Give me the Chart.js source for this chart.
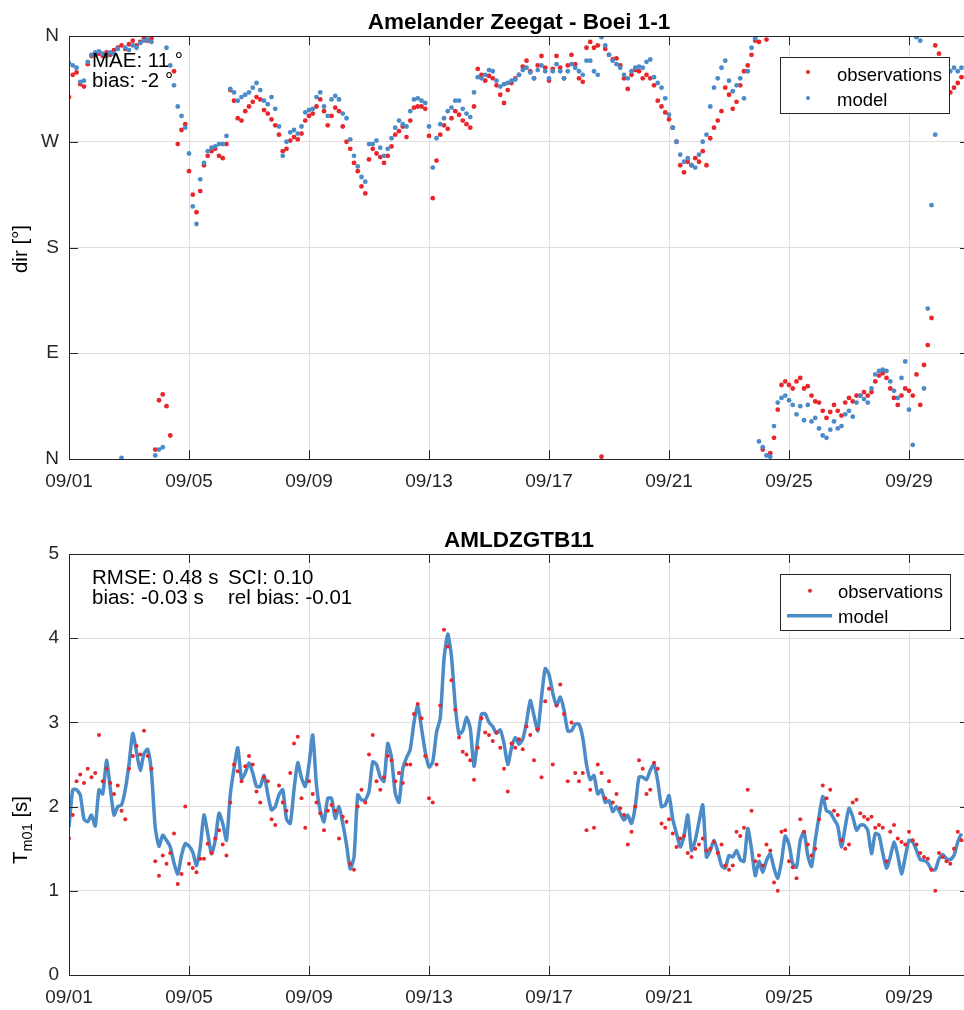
<!DOCTYPE html>
<html>
<head>
<meta charset="utf-8">
<script src="https://cdn.jsdelivr.net/npm/chart.js@4.4.0/dist/chart.umd.min.js"></script>
<style>
    html, body { margin: 0; padding: 0; background: #fff; overflow: hidden; }
    #wrap { position: relative; width: 964px; height: 1010px; overflow: hidden; }
    canvas { position: absolute; left: 0; }
    #dirChart { top: 0; }
    #tmChart { top: 505px; }
</style>
</head>
<body>
<div id="wrap">
    <canvas id="dirChart" width="980" height="505"></canvas>
    <canvas id="tmChart" width="980" height="505"></canvas>
</div>
<script>
// Series are sampled every 3 hours starting 09/01 00:00
const stepHours = 3;

// Wave direction (deg, nautical) at Amelander Zeegat - Boei 1-1
const dirObs = [
    308, 327, 329, 319, 317, 336, 343, 344,   // 09/01
    345, 343, 346, 344, 348, 350, 352, 349,
    353, 356, 352, 355, 358, 356, 358, 8,
    50, 55, 45, 20, 330, 268, 280, 285,
    245, 225, 210, 228, 250, 258, 262, 264,   // 09/05
    258, 256, 268, 314, 305, 290, 288, 296,
    300, 304, 308, 306, 297, 294, 289, 284,
    276, 262, 264, 271, 274, 272, 277, 288,
    292, 294, 300, 306, 296, 284, 292, 299,   // 09/09
    296, 283, 270, 264, 252, 245, 232, 226,
    255, 264, 260, 257, 252, 258, 266, 276,
    279, 283, 274, 288, 299, 300, 300, 298,
    275, 222, 254, 276, 284, 281, 290, 296,   // 09/13
    293, 288, 285, 282, 300, 332, 327, 322,
    326, 324, 318, 310, 303, 314, 320, 324,
    327, 334, 339, 330, 324, 335, 343, 333,
    322, 332, 343, 333, 324, 335, 344, 336,   // 09/17
    324, 321, 350, 355, 350, 352, 2, 349,
    344, 340, 341, 335, 324, 315, 327, 331,
    330, 324, 327, 324, 318, 305, 300, 295,
    289, 282, 270, 250, 244, 253, 250, 256,   // 09/21
    253, 262, 250, 273, 282, 288, 296, 316,
    310, 298, 304, 318, 330, 335, 344, 356,
    355, 8, 357, 5, 18, 42, 63, 66,
    63, 60, 66, 69, 60, 62, 54, 49,           // 09/25
    48, 41, 35, 40, 46, 41, 37, 48,
    52, 49, 54, 54, 57, 54, 57, 66,
    71, 73, 69, 60, 52, 46, 54, 60,
    58, 54, 72, 46, 80, 97, 120, 352,         // 09/29
    345, 300, 305, 312, 316, 320, 325
];
const dirModel = [
    337, 335, 333, 321, 322, 338, 344, 346,
    347, 345, 343, 346, 345, 349, 1, 350,
    348, 352, 350, 354, 356, 357, 355, 3,
    8, 10, 350, 335, 318, 300, 292, 282,
    260, 215, 200, 238, 252, 262, 265, 266,
    268, 268, 275, 315, 312, 305, 308, 310,
    312, 316, 320, 314, 305, 302, 308, 298,
    283, 258, 270, 278, 280, 277, 283, 295,
    297, 298, 308, 312, 300, 292, 306, 309,
    306, 294, 290, 272, 258, 249, 240, 236,
    268, 268, 271, 265, 258, 264, 273, 282,
    288, 285, 283, 296, 306, 307, 305, 303,
    283, 248, 273, 285, 290, 296, 299, 305,
    305, 298, 294, 291, 312, 325, 324, 327,
    331, 330, 322, 317, 319, 320, 322, 323,
    327, 331, 333, 329, 324, 331, 335, 330,
    324, 330, 336, 330, 324, 330, 336, 333,
    330, 327, 339, 339, 330, 327, 359, 352,
    344, 339, 336, 333, 327, 324, 330, 333,
    334, 333, 338, 340, 325, 320, 316, 307,
    293, 282, 270, 259, 253, 256, 250, 248,
    259, 270, 276, 300, 316, 324, 333, 339,
    322, 313, 318, 324, 307, 330, 350, 358,
    15, 10, 3, 2, 28, 48, 52, 54,
    50, 46, 38, 45, 33, 46, 32, 35,
    26, 20, 18, 25, 32, 26, 28, 38,
    41, 36, 48, 54, 51, 48, 60, 72,
    75, 76, 75, 66, 58, 52, 69, 83,
    42, 12, 359, 356, 60, 128, 216, 276,
    300, 325, 328, 330, 333, 330, 333
];

// Mean wave period Tm01 (s) at AMLDZGTB11
const tmObs = [
    1.62, 1.9, 2.3, 2.38, 2.28, 2.45, 2.35, 2.4,   // 09/01
    2.85, 2.3, 2.45, 2.28, 2.15, 2.25, 1.95, 1.85,
    2.45, 2.6, 2.72, 2.62, 2.9, 2.6, 2.45, 1.35,
    1.18, 1.42, 1.32, 1.45, 1.68, 1.08, 1.2, 2.0,
    1.32, 1.27, 1.22, 1.38, 1.38, 1.56, 1.45, 1.62, // 09/05
    1.72, 1.55, 1.42, 2.05, 2.5, 2.42, 2.3, 2.48,
    2.6, 2.5, 2.18, 2.05, 2.35, 2.3, 1.85, 1.78,
    2.25, 2.05, 1.95, 2.4, 2.75, 2.83, 2.1, 1.75,
    2.3, 2.15, 2.05, 1.92, 1.72, 1.95, 2.02, 1.95, // 09/09
    1.62, 1.88, 1.82, 1.32, 1.25, 2.0, 2.2, 2.05,
    2.62, 2.85, 2.3, 2.2, 2.35, 2.6, 2.55, 2.3,
    2.4, 2.28, 2.5, 2.5, 3.1, 3.22, 3.05, 2.6,
    2.1, 2.05, 2.5, 3.2, 4.1, 3.9, 3.5, 3.15,      // 09/13
    2.82, 2.65, 2.62, 2.55, 2.32, 2.7, 3.05, 2.88,
    2.85, 2.78, 2.88, 2.7, 2.45, 2.18, 2.75, 2.7,
    2.8, 2.68, 2.95, 2.85, 2.55, 2.92, 2.35, 3.25,
    3.4, 2.5, 3.2, 3.45, 3.1, 2.3, 3.0, 2.4,       // 09/17
    2.3, 2.4, 1.72, 2.2, 1.75, 2.5, 2.4, 2.1,
    2.3, 2.05, 2.15, 1.98, 1.9, 1.55, 1.7, 2.0,
    2.55, 2.45, 2.15, 2.2, 2.52, 2.45, 1.8, 1.75,
    1.85, 1.68, 1.52, 1.62, 1.65, 1.45, 1.4, 1.5,  // 09/21
    1.55, 1.62, 1.48, 1.5, 1.58, 1.45, 1.55, 1.3,
    1.25, 1.3, 1.7, 1.65, 1.75, 2.2, 1.95, 1.35,
    1.42, 1.3, 1.55, 1.48, 1.1, 1.0, 1.7, 1.72,
    1.35, 1.28, 1.15, 1.85, 1.7, 1.55, 1.42, 1.5,  // 09/25
    1.85, 2.25, 2.1, 2.2, 1.95, 1.9, 1.6, 1.5,
    1.55, 2.05, 2.08, 1.92, 1.88, 1.85, 1.88, 1.75,
    1.78, 1.75, 1.35, 1.7, 1.78, 1.62, 1.58, 1.55,
    1.7, 1.6, 1.55, 1.45, 1.4, 1.38, 1.25, 1.0,    // 09/29
    1.45, 1.4, 1.35, 1.32, 1.5, 1.7, 1.6
];
const tmModel = [
    1.76, 2.2, 2.2, 2.14, 1.85, 1.82, 1.9, 1.77,
    2.2, 2.15, 2.55, 2.22, 1.9, 2.0, 2.02, 2.2,
    2.5, 2.87, 2.65, 2.43, 2.63, 2.68, 2.4, 1.75,
    1.53, 1.66, 1.6, 1.52, 1.33, 1.2, 1.42, 1.56,
    1.53, 1.46, 1.3, 1.52, 1.9, 1.68, 1.44, 1.6,
    1.92, 1.8, 1.6, 2.14, 2.45, 2.7, 2.33, 2.4,
    2.52, 2.4, 2.24, 2.24, 2.37, 2.15, 1.96, 2.0,
    2.14, 2.2, 1.85, 1.8, 2.2, 2.52, 2.34, 2.24,
    2.5, 2.85, 2.25, 1.95, 1.82, 2.1, 2.1, 1.86,
    2.0, 1.8, 1.55, 1.26, 1.4, 2.14, 2.08, 2.08,
    2.18, 2.53, 2.5, 2.35, 2.3, 2.75, 2.58, 2.16,
    2.05, 2.45, 2.58, 2.68, 3.0, 3.2, 2.93, 2.65,
    2.47, 2.53, 2.88, 3.05, 3.75, 4.05, 3.78, 3.2,
    2.86, 2.9, 3.06, 2.93, 2.48, 2.8, 3.1, 3.1,
    3.0, 2.95, 2.87, 2.91, 2.75, 2.5, 2.7, 2.82,
    2.74, 2.8, 3.0, 3.26, 3.08, 2.9, 3.3, 3.64,
    3.57, 3.35, 3.2, 3.3, 3.15, 2.9, 2.9, 2.98,
    2.98, 2.82, 2.5, 2.32, 2.37, 2.15, 2.2, 2.05,
    2.07, 1.94, 2.0, 1.92, 1.84, 1.9, 1.8, 2.0,
    2.35, 2.35, 2.32, 2.43, 2.5, 2.3, 2.0, 2.02,
    2.13, 1.85, 1.68, 1.52, 1.65, 1.9, 1.48, 1.6,
    1.82, 2.02, 1.4, 1.48, 1.6, 1.47, 1.3, 1.27,
    1.42, 1.4, 1.48, 1.37, 1.35, 1.74, 1.5, 1.18,
    1.35, 1.22, 1.36, 1.44, 1.27, 1.15, 1.35, 1.65,
    1.55, 1.32, 1.28, 1.6, 1.7, 1.42, 1.29, 1.6,
    1.88, 2.12, 1.95, 1.93, 1.85, 1.77, 1.52, 1.76,
    1.98, 1.88, 1.72, 1.78, 1.78, 1.72, 1.44, 1.68,
    1.66, 1.45, 1.27, 1.4, 1.58, 1.42, 1.2, 1.4,
    1.6, 1.58, 1.48, 1.37, 1.36, 1.33, 1.25, 1.25,
    1.38, 1.43, 1.38, 1.37, 1.42, 1.58, 1.68
];

// Axis ticks (x in days since 09/01)
const dayTicks = [0, 4, 8, 12, 16, 20, 24, 28];
const dayTickLabels = ['09/01', '09/05', '09/09', '09/13', '09/17', '09/21', '09/25', '09/29'];
const dirTicks = [0, 90, 180, 270, 360];
const dirTickLabels = ['N', 'E', 'S', 'W', 'N'];
const tmTicks = [0, 1, 2, 3, 4, 5];

const FONT = "'Liberation Sans', Arial, Helvetica, sans-serif";
const obsColor = '#e8262b';
const modelColor = '#4a8bc8';
const axisColor = '#262626';
const gridColor = '#dedede';

const toPoints = values => values.map((v, i) => ({ x: i * stepHours / 24, y: v }));
const fixedTicks = values => scale => { scale.ticks = values.map(v => ({ value: v })); };

// Boxed axes with inward ticks, title, y label, text notes and a legend box.
// Settings are kept in a closure so Chart.js does not resolve them as options.
function boxedAxes(cfg) {
    return {
        id: 'boxedAxes',
        afterDatasetsDraw(chart) {
            const { ctx, chartArea: a, scales } = chart;
            ctx.save();

            ctx.strokeStyle = axisColor;
            ctx.lineWidth = 1;
            ctx.beginPath();
            scales.x.ticks.forEach(t => {
                const px = Math.round(scales.x.getPixelForValue(t.value)) + 0.5;
                ctx.moveTo(px, a.bottom); ctx.lineTo(px, a.bottom - 9);
                ctx.moveTo(px, a.top); ctx.lineTo(px, a.top + 9);
            });
            scales.y.ticks.forEach(t => {
                const py = Math.round(scales.y.getPixelForValue(t.value)) + 0.5;
                ctx.moveTo(a.left, py); ctx.lineTo(a.left + 9, py);
                ctx.moveTo(a.right, py); ctx.lineTo(a.right - 9, py);
            });
            ctx.stroke();
            ctx.strokeRect(a.left + 0.5, a.top + 0.5, a.right - a.left, a.bottom - a.top);

            ctx.fillStyle = '#000';
            ctx.textBaseline = 'alphabetic';

            // title
            ctx.font = `bold 22.5px ${FONT}`;
            ctx.textAlign = 'center';
            ctx.fillText(cfg.title, (a.left + a.right) / 2, cfg.titleY);

            // y axis label, made of parts so a subscript can be drawn
            ctx.save();
            ctx.translate(cfg.yLabelX, cfg.yLabelY);
            ctx.rotate(-Math.PI / 2);
            ctx.textAlign = 'left';
            let total = 0;
            cfg.yLabel.forEach(p => {
                ctx.font = `${p.size}px ${FONT}`;
                total += ctx.measureText(p.text).width;
            });
            let cx = -total / 2;
            cfg.yLabel.forEach(p => {
                ctx.font = `${p.size}px ${FONT}`;
                ctx.fillText(p.text, cx, p.dy || 0);
                cx += ctx.measureText(p.text).width;
            });
            ctx.restore();

            // statistics text
            ctx.font = `20.5px ${FONT}`;
            ctx.textAlign = 'left';
            cfg.notes.forEach(n => ctx.fillText(n.text, n.x, n.y));

            // legend
            const lg = cfg.legend;
            ctx.fillStyle = '#fff';
            ctx.fillRect(lg.left, lg.top, lg.right - lg.left, lg.bottom - lg.top);
            ctx.strokeStyle = axisColor;
            ctx.lineWidth = 1;
            ctx.strokeRect(lg.left + 0.5, lg.top + 0.5, lg.right - lg.left, lg.bottom - lg.top);
            ctx.font = `18.5px ${FONT}`;
            chart.data.datasets.forEach((ds, i) => {
                const row = lg.rows[i];
                if (ds.showLine) {
                    ctx.strokeStyle = ds.borderColor;
                    ctx.lineWidth = ds.borderWidth;
                    ctx.beginPath();
                    ctx.moveTo(lg.lineFrom, row.mark);
                    ctx.lineTo(lg.lineTo, row.mark);
                    ctx.stroke();
                } else {
                    ctx.fillStyle = ds.backgroundColor;
                    ctx.beginPath();
                    ctx.arc(lg.dotX, row.mark, 2, 0, Math.PI * 2);
                    ctx.fill();
                }
                ctx.fillStyle = '#000';
                ctx.fillText(ds.label, lg.textX, row.text);
            });

            ctx.restore();
        }
    };
}

function xAxis(height) {
    return {
        type: 'linear',
        min: 0,
        max: 30,
        afterBuildTicks: fixedTicks(dayTicks),
        afterFit: s => { s.height = height; },
        grid: { color: gridColor, drawTicks: false },
        border: { display: false },
        ticks: {
            padding: 11,
            color: axisColor,
            autoSkip: false,
            maxRotation: 0,
            font: { family: FONT, size: 19 },
            callback: (v, i) => dayTickLabels[i]
        }
    };
}

// Top panel: wave direction
new Chart(document.getElementById('dirChart'), {
    type: 'scatter',
    data: {
        datasets: [
            {
                label: 'observations',
                data: toPoints(dirObs),
                backgroundColor: obsColor,
                borderWidth: 0,
                pointRadius: 2.4,
                order: 1
            },
            {
                label: 'model',
                data: toPoints(dirModel),
                backgroundColor: modelColor,
                borderWidth: 0,
                pointRadius: 2.4,
                order: 0
            }
        ]
    },
    options: {
        responsive: false,
        animation: false,
        events: [],
        layout: { padding: { top: 36, right: 11, bottom: 0, left: 0 } },
        scales: {
            x: xAxis(46),
            y: {
                min: 0,
                max: 360,
                afterBuildTicks: fixedTicks(dirTicks),
                afterFit: s => { s.width = 69; },
                grid: { color: gridColor, drawTicks: false },
                border: { display: false },
                ticks: {
                    padding: 10,
                    color: axisColor,
                    font: { family: FONT, size: 19 },
                    callback: (v, i) => dirTickLabels[i]
                }
            }
        },
        plugins: {
            legend: { display: false },
            tooltip: { enabled: false }
        }
    },
    plugins: [boxedAxes({
        title: 'Amelander Zeegat - Boei 1-1',
        titleY: 29,
        yLabelX: 27,
        yLabelY: 249,
        yLabel: [{ text: 'dir [°]', size: 20.5 }],
        notes: [
            { text: 'MAE: 11 °', x: 92, y: 67 },
            { text: 'bias: -2 °', x: 92, y: 87 }
        ],
        legend: {
            left: 780, top: 57, right: 949, bottom: 113,
            dotX: 808, lineFrom: 787, lineTo: 832, textX: 837,
            rows: [{ mark: 72, text: 80.5 }, { mark: 98, text: 105.5 }]
        }
    })]
});

// Bottom panel: mean wave period
new Chart(document.getElementById('tmChart'), {
    type: 'scatter',
    data: {
        datasets: [
            {
                label: 'observations',
                data: toPoints(tmObs),
                backgroundColor: obsColor,
                borderWidth: 0,
                pointRadius: 2,
                order: 0
            },
            {
                label: 'model',
                data: toPoints(tmModel),
                showLine: true,
                borderColor: modelColor,
                borderWidth: 3.5,
                tension: 0.2,
                pointRadius: 0,
                order: 1
            }
        ]
    },
    options: {
        responsive: false,
        animation: false,
        events: [],
        layout: { padding: { top: 49, right: 11, bottom: 0, left: 0 } },
        scales: {
            x: xAxis(35),
            y: {
                min: 0,
                max: 5,
                afterBuildTicks: fixedTicks(tmTicks),
                afterFit: s => { s.width = 69; },
                grid: { color: gridColor, drawTicks: false },
                border: { display: false },
                ticks: {
                    padding: 10,
                    color: axisColor,
                    font: { family: FONT, size: 19 }
                }
            }
        },
        plugins: {
            legend: { display: false },
            tooltip: { enabled: false }
        }
    },
    plugins: [boxedAxes({
        title: 'AMLDZGTB11',
        titleY: 42,
        yLabelX: 27,
        yLabelY: 325,
        yLabel: [
            { text: 'T', size: 20.5 },
            { text: 'm01', size: 14.5, dy: 5 },
            { text: ' [s]', size: 20.5 }
        ],
        notes: [
            { text: 'RMSE: 0.48 s', x: 92, y: 79 },
            { text: 'SCI: 0.10', x: 228, y: 79 },
            { text: 'bias: -0.03 s', x: 92, y: 99 },
            { text: 'rel bias: -0.01', x: 228, y: 99 }
        ],
        legend: {
            left: 780, top: 69, right: 950, bottom: 125,
            dotX: 810, lineFrom: 787, lineTo: 832, textX: 838,
            rows: [{ mark: 85.7, text: 92.7 }, { mark: 110.7, text: 117.7 }]
        }
    })]
});
</script>
</body>
</html>
